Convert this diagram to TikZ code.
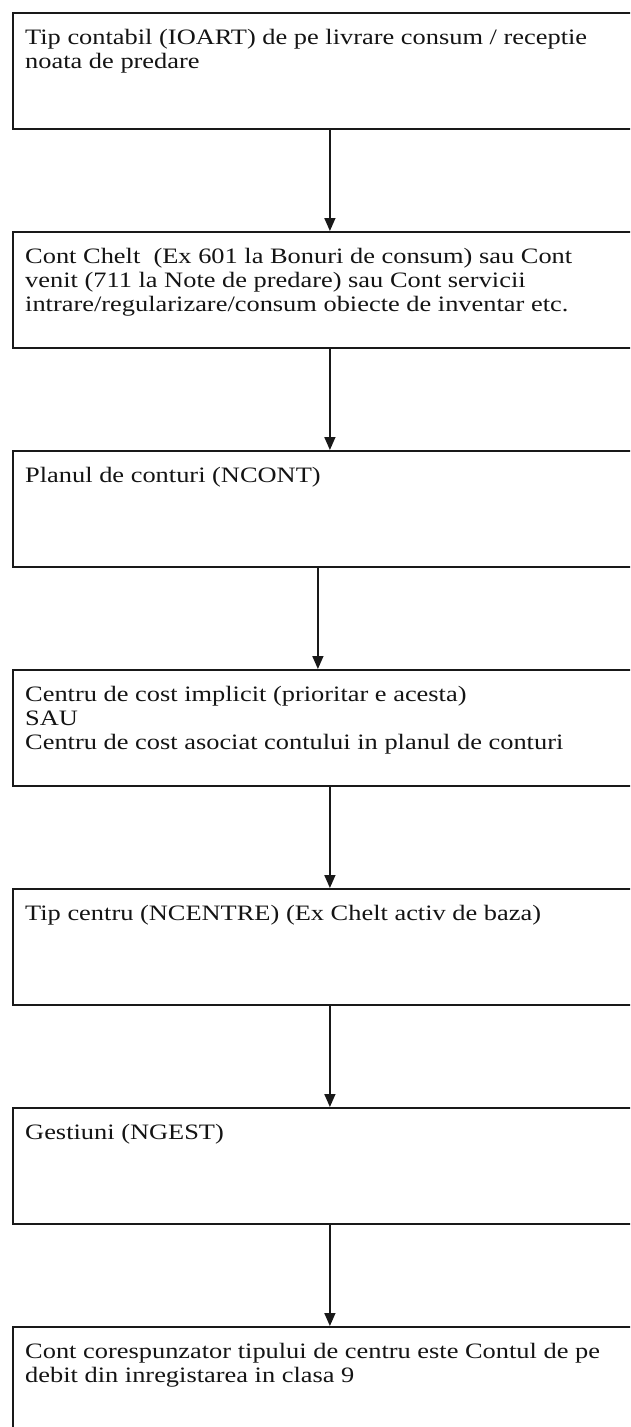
\documentclass[tikz,border=0pt]{standalone}
\usepackage{fontspec}
\setmainfont{Liberation Serif}[FakeStretch=1.2]
\usetikzlibrary{arrows.meta}
\begin{document}
\begin{tikzpicture}[x=1pt,y=1pt,
  stepbox/.style={draw=black!90, line width=1.8pt, anchor=north west,
    minimum width=634pt, minimum height=116pt, inner sep=0pt},
  txt/.style={anchor=north west, inner sep=0pt, align=left, text=black!92,
    font=\fontsize{22}{24}\selectfont},
  flow/.style={draw=black!90, line width=1.5pt,
    -{Triangle[length=13pt,width=11pt]}}]
\clip (0,0) rectangle (630,-1427);
\fill[white] (0,0) rectangle (630,-1427);
\node[stepbox] (b1) at (12,-12) {};
\node[stepbox] (b2) at (12,-231) {};
\node[stepbox] (b3) at (12,-450) {};
\node[stepbox] (b4) at (12,-669) {};
\node[stepbox] (b5) at (12,-888) {};
\node[stepbox] (b6) at (12,-1107) {};
\node[stepbox] (b7) at (12,-1326) {};
\node[txt] (t1) at ([shift={(13,-17)}]b1.north west) {Tip contabil (IOART) de pe livrare consum / receptie\\noata de predare};
\node[txt] (t2) at ([shift={(13,-17)}]b2.north west) {Cont Chelt\ \ (Ex 601 la Bonuri de consum) sau Cont\\venit (711 la Note de predare) sau Cont servicii\\intrare/regularizare/consum obiecte de inventar etc.};
\node[txt] (t3) at ([shift={(13,-17)}]b3.north west) {Planul de conturi (NCONT)};
\node[txt] (t4) at ([shift={(13,-17)}]b4.north west) {Centru de cost implicit (prioritar e acesta)\\SAU\\Centru de cost asociat contului in planul de conturi};
\node[txt] (t5) at ([shift={(13,-17)}]b5.north west) {Tip centru (NCENTRE) (Ex Chelt activ de baza)};
\node[txt] (t6) at ([shift={(13,-17)}]b6.north west) {Gestiuni (NGEST)};
\node[txt] (t7) at ([shift={(13,-17)}]b7.north west) {Cont corespunzator tipului de centru este Contul de pe\\debit din inregistarea in clasa 9};
\draw[flow] (b1.south) -- (b2.north);
\draw[flow] (b2.south) -- (b3.north);
\draw[flow] ([xshift=-12pt]b3.south) -- ([xshift=-12pt]b4.north);
\draw[flow] (b4.south) -- (b5.north);
\draw[flow] (b5.south) -- (b6.north);
\draw[flow] (b6.south) -- (b7.north);
\end{tikzpicture}
\end{document}
